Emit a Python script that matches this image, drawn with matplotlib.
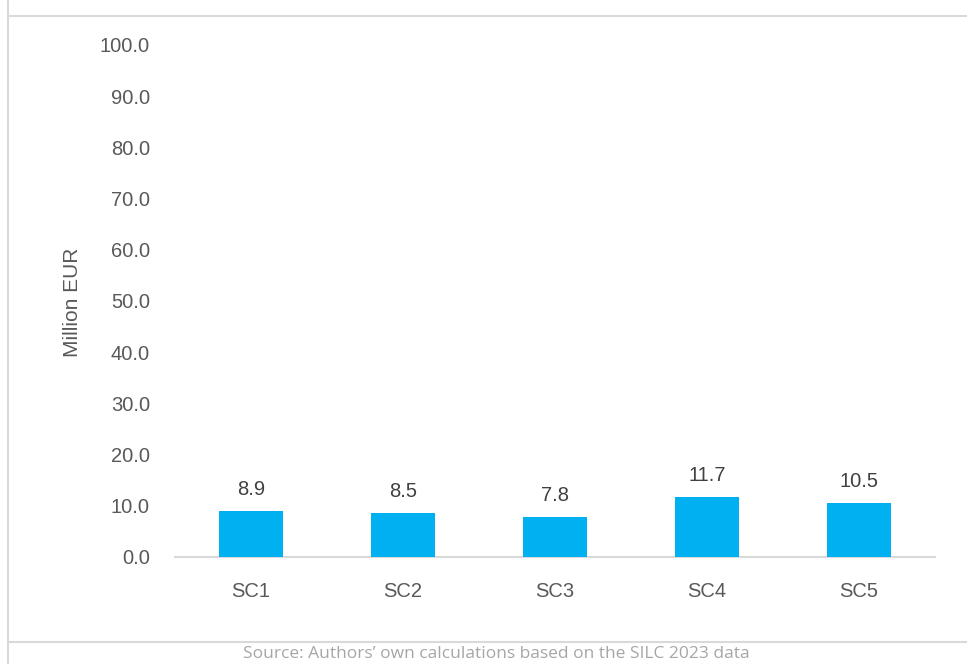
import matplotlib
matplotlib.use("Agg")
import matplotlib.pyplot as plt
from matplotlib.lines import Line2D

categories = ["SC1", "SC2", "SC3", "SC4", "SC5"]
values = [8.9, 8.5, 7.8, 11.7, 10.5]
yticks = [0, 10, 20, 30, 40, 50, 60, 70, 80, 90, 100]

W, H = 967, 664
fig = plt.figure(figsize=(W / 100, H / 100), dpi=100)
plt.rcParams['font.family'] = ['Liberation Sans', 'DejaVu Sans']

ax = fig.add_axes([175 / W, 1 - 557 / H, (935 - 175) / W, (557 - 45) / H])
x = range(len(categories))
bars = ax.bar(x, values, width=0.42, color="#00B0F0", zorder=3)
ax.set_xlim(-0.5, len(categories) - 0.5)
ax.set_ylim(0, 100)
ax.set_yticks(yticks)
ax.set_yticklabels([f"{v:.1f}" for v in yticks])
ax.set_xticks(list(x))
ax.set_xticklabels(categories)
for s in ["top", "right", "left"]:
    ax.spines[s].set_visible(False)
ax.spines["bottom"].set_color("#D9D9D9")
ax.spines["bottom"].set_linewidth(1.5)
ax.tick_params(axis="both", length=0, labelsize=14.5, colors="#595959")
ax.tick_params(axis="y", pad=18)
ax.tick_params(axis="x", pad=18)
for b, v in zip(bars, values):
    ax.annotate(f"{v:.1f}", (b.get_x() + b.get_width() / 2, v), xytext=(0, 9),
                textcoords="offset points", ha="center", va="bottom",
                fontsize=14.5, color="#404040")
fig.text(72 / W, 1 - 302 / H, "Million EUR", rotation=90, ha="center", va="center",
         fontsize=15, color="#595959")

# frame lines
fig.add_artist(Line2D([8 / W, 8 / W], [0, 1], color="#D9D9D9", lw=1.5, transform=fig.transFigure))
fig.add_artist(Line2D([8 / W, 1], [1 - 16 / H, 1 - 16 / H], color="#D9D9D9", lw=1.5, transform=fig.transFigure))
fig.add_artist(Line2D([8 / W, 1], [1 - 642 / H, 1 - 642 / H], color="#D9D9D9", lw=1.5, transform=fig.transFigure))

fig.text(496 / W, 1 - 654 / H, "Source: Authors\u2019 own calculations based on the SILC 2023 data",
         ha="center", va="center", fontsize=12.5, color="#A6A6A6", family=["Open Sans", "DejaVu Sans"])

fig.savefig("out.png", dpi=100)
